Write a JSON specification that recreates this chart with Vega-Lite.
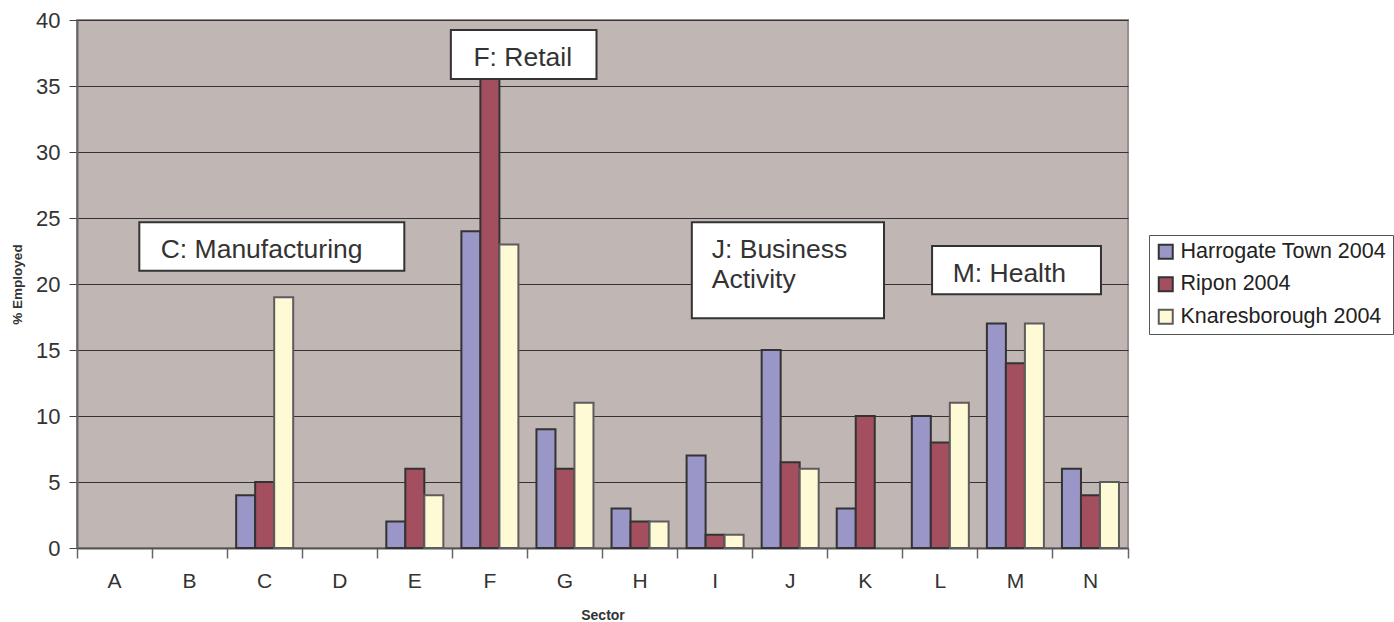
{
  "$schema": "https://vega.github.io/schema/vega-lite/v6.json",
  "width": 1051,
  "height": 528,
  "autosize": {"type": "none"},
  "padding": {"left": 77, "top": 20, "right": 266, "bottom": 74},
  "background": "white",
  "config": {
    "font": "Liberation Sans",
    "view": {"fill": "#c0b6b3", "stroke": "#9a8e8b", "strokeWidth": 2}
  },
  "datasets": {
    "bars": [
      {"sector": "A", "series": "Harrogate Town 2004", "value": 0},
      {"sector": "A", "series": "Ripon 2004", "value": 0},
      {"sector": "A", "series": "Knaresborough 2004", "value": 0},
      {"sector": "B", "series": "Harrogate Town 2004", "value": 0},
      {"sector": "B", "series": "Ripon 2004", "value": 0},
      {"sector": "B", "series": "Knaresborough 2004", "value": 0},
      {"sector": "C", "series": "Harrogate Town 2004", "value": 4},
      {"sector": "C", "series": "Ripon 2004", "value": 5},
      {"sector": "C", "series": "Knaresborough 2004", "value": 19},
      {"sector": "D", "series": "Harrogate Town 2004", "value": 0},
      {"sector": "D", "series": "Ripon 2004", "value": 0},
      {"sector": "D", "series": "Knaresborough 2004", "value": 0},
      {"sector": "E", "series": "Harrogate Town 2004", "value": 2},
      {"sector": "E", "series": "Ripon 2004", "value": 6},
      {"sector": "E", "series": "Knaresborough 2004", "value": 4},
      {"sector": "F", "series": "Harrogate Town 2004", "value": 24},
      {"sector": "F", "series": "Ripon 2004", "value": 36},
      {"sector": "F", "series": "Knaresborough 2004", "value": 23},
      {"sector": "G", "series": "Harrogate Town 2004", "value": 9},
      {"sector": "G", "series": "Ripon 2004", "value": 6},
      {"sector": "G", "series": "Knaresborough 2004", "value": 11},
      {"sector": "H", "series": "Harrogate Town 2004", "value": 3},
      {"sector": "H", "series": "Ripon 2004", "value": 2},
      {"sector": "H", "series": "Knaresborough 2004", "value": 2},
      {"sector": "I", "series": "Harrogate Town 2004", "value": 7},
      {"sector": "I", "series": "Ripon 2004", "value": 1},
      {"sector": "I", "series": "Knaresborough 2004", "value": 1},
      {"sector": "J", "series": "Harrogate Town 2004", "value": 15},
      {"sector": "J", "series": "Ripon 2004", "value": 6.5},
      {"sector": "J", "series": "Knaresborough 2004", "value": 6},
      {"sector": "K", "series": "Harrogate Town 2004", "value": 3},
      {"sector": "K", "series": "Ripon 2004", "value": 10},
      {"sector": "K", "series": "Knaresborough 2004", "value": 0},
      {"sector": "L", "series": "Harrogate Town 2004", "value": 10},
      {"sector": "L", "series": "Ripon 2004", "value": 8},
      {"sector": "L", "series": "Knaresborough 2004", "value": 11},
      {"sector": "M", "series": "Harrogate Town 2004", "value": 17},
      {"sector": "M", "series": "Ripon 2004", "value": 14},
      {"sector": "M", "series": "Knaresborough 2004", "value": 17},
      {"sector": "N", "series": "Harrogate Town 2004", "value": 6},
      {"sector": "N", "series": "Ripon 2004", "value": 4},
      {"sector": "N", "series": "Knaresborough 2004", "value": 5}
    ],
    "boxes": [
      {"name": "C", "x1": 0.83, "x2": 4.36, "ytop": 24.67, "ybot": 21.0},
      {"name": "F", "x1": 4.98, "x2": 6.92, "ytop": 39.24, "ybot": 35.53},
      {"name": "J", "x1": 8.19, "x2": 10.75, "ytop": 24.67, "ybot": 17.4},
      {"name": "M", "x1": 11.39, "x2": 13.64, "ytop": 22.88, "ybot": 19.22}
    ],
    "labels": [
      {"label": "C: Manufacturing", "tx": 1.115, "ty": 21.97},
      {"label": "F: Retail", "tx": 5.28, "ty": 36.52},
      {"label": "J: Business", "tx": 8.455, "ty": 21.97},
      {"label": "Activity", "tx": 8.455, "ty": 19.7},
      {"label": "M: Health", "tx": 11.665, "ty": 20.15}
    ]
  },
  "layer": [
    {
      "data": {"name": "bars"},
      "transform": [{"filter": "datum.value > 0"}],
      "mark": {"type": "bar", "strokeWidth": 2},
      "encoding": {
        "x": {
          "field": "sector",
          "type": "nominal",
          "title": "Sector",
          "scale": {"domain": ["A","B","C","D","E","F","G","H","I","J","K","L","M","N"], "paddingInner": 0, "paddingOuter": 0},
          "axis": {
            "bandPosition": 1,
            "tickExtra": true,
            "ticks": true,
            "tickSize": 10,
            "tickColor": "#666666",
            "tickWidth": 1.5,
            "domainColor": "#555555",
            "domainWidth": 2,
            "labelAngle": 0,
            "labelFontSize": 21,
            "labelColor": "#333333",
            "labelPadding": 12,
            "titleFontSize": 14,
            "titleFontWeight": "bold",
            "titleColor": "#333333",
            "titlePadding": 17,
            "grid": false
          }
        },
        "y": {
          "field": "value",
          "type": "quantitative",
          "title": "% Employed",
          "scale": {"domain": [0, 40], "nice": false},
          "axis": {
            "values": [0, 5, 10, 15, 20, 25, 30, 35, 40],
            "grid": true,
            "gridColor": "#333333",
            "gridWidth": 1,
            "tickSize": 8,
            "tickColor": "#444444",
            "domainColor": "#666666",
            "domainWidth": 2,
            "labelFontSize": 22,
            "labelColor": "#333333",
            "labelPadding": 9,
            "titleFontSize": 13.5,
            "titleFontWeight": "bold",
            "titleColor": "#333333",
            "titlePadding": 11
          }
        },
        "xOffset": {
          "field": "series",
          "type": "nominal",
          "scale": {"domain": ["Harrogate Town 2004", "Ripon 2004", "Knaresborough 2004"], "paddingOuter": 0.475, "paddingInner": 0}
        },
        "color": {
          "field": "series",
          "type": "nominal",
          "scale": {"domain": ["Harrogate Town 2004", "Ripon 2004", "Knaresborough 2004"], "range": ["#9a96c8", "#a34f5f", "#fffad6"]},
          "legend": {
            "title": null,
            "orient": "none",
            "legendX": 1072,
            "legendY": 215,
            "padding": 6,
            "strokeColor": "#555555",
            "fillColor": "white",
            "symbolType": "square",
            "symbolSize": 196,
            "symbolStrokeWidth": 2,
            "symbolStrokeColor": "#333333",
            "labelFontSize": 21.5,
            "labelColor": "#222222",
            "labelOffset": 4,
            "labelLimit": 400,
            "rowPadding": 9.5
          }
        },
        "stroke": {
          "field": "series",
          "type": "nominal",
          "scale": {"domain": ["Harrogate Town 2004", "Ripon 2004", "Knaresborough 2004"], "range": ["#333333", "#333333", "#5c5c5c"]},
          "legend": null
        }
      }
    },
    {
      "data": {"name": "boxes"},
      "mark": {"type": "rect", "fill": "white", "stroke": "#333333", "strokeWidth": 2},
      "encoding": {
        "x": {"field": "x1", "type": "quantitative", "scale": {"domain": [0, 14], "nice": false, "zero": false}, "axis": null},
        "x2": {"field": "x2"},
        "y": {"field": "ytop", "type": "quantitative", "title": "% Employed"},
        "y2": {"field": "ybot"}
      }
    },
    {
      "data": {"name": "labels"},
      "mark": {"type": "text", "align": "left", "baseline": "alphabetic", "fontSize": 26.5, "color": "#333333", "font": "Liberation Sans"},
      "encoding": {
        "x": {"field": "tx", "type": "quantitative", "scale": {"domain": [0, 14], "nice": false, "zero": false}, "axis": null},
        "y": {"field": "ty", "type": "quantitative", "title": "% Employed"},
        "text": {"field": "label"}
      }
    }
  ],
  "resolve": {"scale": {"x": "independent", "color": "independent", "stroke": "independent"}}
}
